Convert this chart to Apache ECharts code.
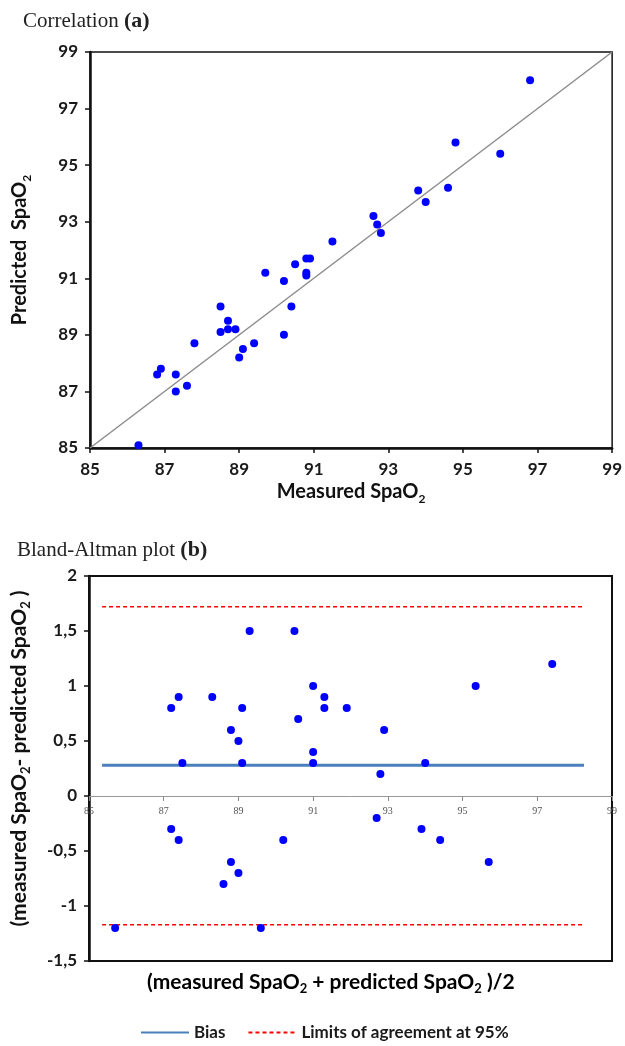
<!DOCTYPE html>
<html><head><meta charset="utf-8">
<script src="https://cdn.jsdelivr.net/npm/echarts@6/dist/echarts.min.js"></script>
<style>html,body{margin:0;padding:0;background:#fff}#c{width:625px;height:1046px}</style>
</head><body><div id="c"></div>
<script>
// Panel (a): measured vs predicted SpaO2
const measured = [86.3,86.8,86.9,87.3,87.3,87.6,87.8,88.5,88.5,88.7,88.7,88.9,89.0,89.1,89.4,89.7,90.2,90.2,90.4,90.5,90.8,90.9,90.8,90.8,91.5,92.8,92.6,92.7,93.8,94.0,94.6,94.8,96.0,96.8];
const predicted = [85.1,87.6,87.8,87.6,87.0,87.2,88.7,90.0,89.1,89.5,89.2,89.2,88.2,88.5,88.7,91.2,90.9,89.0,90.0,91.5,91.7,91.7,91.2,91.1,92.3,92.6,93.2,92.9,94.1,93.7,94.2,95.8,95.4,98.0];
const identityLine = [85, 99];
const corrTicks = [85,87,89,91,93,95,97,99];

// Panel (b): Bland-Altman
const baMean = [87.2,87.4,88.3,89.3,90.5,91.0,89.1,88.8,89.0,90.6,91.0,87.5,89.1,91.0,91.3,91.3,91.9,92.9,95.35,97.4,94.0,92.8,87.2,87.4,88.8,89.0,88.6,90.2,85.7,89.6,92.7,93.9,94.4,95.7];
const baDiff = [0.8,0.9,0.9,1.5,1.5,1.0,0.8,0.6,0.5,0.7,0.4,0.3,0.3,0.3,0.9,0.8,0.8,0.6,1.0,1.2,0.3,0.2,-0.3,-0.4,-0.6,-0.7,-0.8,-0.4,-1.2,-1.2,-0.2,-0.3,-0.4,-0.6];
const bias = 0.28;
const upperLimit = 1.72;
const lowerLimit = -1.17;
const refLineX = [85.35, 98.25];
const baXTicks = [85,87,89,91,93,95,97,99];

const SANS = 'Lato, "Open Sans", sans-serif';
const SERIF = '"Liberation Serif", "DejaVu Serif", serif';

function subRich(size) {
  return {
    m: {fontFamily: SANS, fontWeight: 'bold', fontSize: size, color: '#111', lineHeight: 26},
    s: {fontFamily: SANS, fontWeight: 'bold', fontSize: Math.round(size * 0.62), color: '#111', lineHeight: 15, verticalAlign: 'bottom'}
  };
}
const titleRich = {
  n: {fontFamily: SERIF, fontSize: 21, fontWeight: 'normal', color: '#222'},
  b: {fontFamily: SERIF, fontSize: 22, fontWeight: 'bold', color: '#222'}
};
const tickLabel = {fontFamily: SANS, fontWeight: 'bold', fontSize: 17, color: '#1a1a1a'};

const chart = echarts.init(document.getElementById('c'), null, {renderer: 'canvas'});
chart.setOption({
  backgroundColor: '#fff',
  animation: false,
  title: [
    {text: '{n|Correlation }{b|(a)}', left: 18, top: 5, textStyle: {fontWeight: 'normal', rich: titleRich}},
    {text: '{n|Bland-Altman plot }{b|(b)}', left: 12, top: 534, textStyle: {fontWeight: 'normal', rich: titleRich}}
  ],
  grid: [
    {left: 90, top: 52, width: 525, height: 396, show: true, borderColor: '#111', borderWidth: 1.5, backgroundColor: 'transparent'},
    {left: 89, top: 576, width: 523, height: 385, show: true, borderColor: '#111', borderWidth: 2, backgroundColor: 'transparent'}
  ],
  xAxis: [
    {gridIndex: 0, type: 'value', min: 85, max: 99, interval: 2,
     name: '{m|Measured SpaO}{s|2}', nameLocation: 'middle', nameGap: 31,
     nameTextStyle: {rich: subRich(20)},
     axisLine: {show: true, lineStyle: {color: '#111', width: 2.5}},
     axisTick: {show: true, length: 5, lineStyle: {color: '#111', width: 1.5}, customValues: corrTicks},
     axisLabel: Object.assign({margin: 13, customValues: corrTicks}, tickLabel),
     splitLine: {show: false}},
    {gridIndex: 1, type: 'value', min: 85, max: 99, interval: 2, offset: -165,
     axisLine: {show: true, onZero: false, lineStyle: {color: '#999', width: 1}},
     axisTick: {show: true, length: 5, lineStyle: {color: '#888', width: 1}, customValues: baXTicks},
     axisLabel: {fontFamily: SERIF, fontSize: 10, color: '#555', margin: 10, customValues: baXTicks},
     splitLine: {show: false}}
  ],
  yAxis: [
    {gridIndex: 0, type: 'value', min: 85, max: 99, interval: 2,
     name: '{m|Predicted  SpaO}{s|2}', nameLocation: 'middle', nameGap: 57, nameRotate: 90,
     nameTextStyle: {rich: subRich(20)},
     axisLine: {show: true, lineStyle: {color: '#111', width: 2.5}},
     axisTick: {show: true, length: 5, lineStyle: {color: '#111', width: 1.5}, customValues: corrTicks},
     axisLabel: Object.assign({margin: 12, customValues: corrTicks}, tickLabel),
     splitLine: {show: false}},
    {gridIndex: 1, type: 'value', min: -1.5, max: 2, interval: 0.5,
     name: '{m|(measured SpaO}{s|2}{m|- predicted SpaO}{s|2}{m| )}', nameLocation: 'middle', nameGap: 57, nameRotate: 90,
     nameTextStyle: {rich: subRich(21), padding: [0, 0, 0, 20]},
     axisLine: {show: true, lineStyle: {color: '#111', width: 2.5}},
     axisTick: {show: true, length: 5, lineStyle: {color: '#111', width: 1.5}},
     axisLabel: Object.assign({margin: 12, formatter: v => String(v).replace('.', ',')}, tickLabel),
     splitLine: {show: false}}
  ],
  legend: {
    top: 1019, left: 135, itemWidth: 48, itemHeight: 12, itemGap: 22,
    itemStyle: {opacity: 0},
    lineStyle: {width: 2},
    data: ['Bias', 'Limits of agreement at 95%'],
    textStyle: {fontFamily: SANS, fontWeight: 'bold', fontSize: 17, color: '#1a1a1a'}
  },
  graphic: [
    {type: 'text', left: 147, top: 972,
     style: {text: '{m|(measured SpaO}{s|2}{m| + predicted SpaO}{s|2}{m| )/2}', rich: subRich(21)}}
  ],
  series: [
    {type: 'line', xAxisIndex: 0, yAxisIndex: 0, data: identityLine.map(v => [v, v]),
     symbol: 'none', lineStyle: {color: '#8c8c8c', width: 1.5}, silent: true, z: 1},
    {type: 'scatter', xAxisIndex: 0, yAxisIndex: 0, data: measured.map((m, i) => [m, predicted[i]]),
     symbolSize: 8, itemStyle: {color: '#0000ff', opacity: 1}, z: 3},
    {name: 'Bias', type: 'line', xAxisIndex: 1, yAxisIndex: 1, data: refLineX.map(x => [x, bias]),
     symbol: 'none', lineStyle: {color: '#4a7fbd', width: 3}, itemStyle: {color: '#4a7fbd'}, z: 2},
    {name: 'Limits of agreement at 95%', type: 'line', xAxisIndex: 1, yAxisIndex: 1, data: refLineX.map(x => [x, upperLimit]),
     symbol: 'none', lineStyle: {color: '#ff0000', width: 1.5, type: [4, 3]}, itemStyle: {color: '#ff0000'}, z: 2},
    {name: 'Limits of agreement at 95%', type: 'line', xAxisIndex: 1, yAxisIndex: 1, data: refLineX.map(x => [x, lowerLimit]),
     symbol: 'none', lineStyle: {color: '#ff0000', width: 1.5, type: [4, 3]}, itemStyle: {color: '#ff0000'}, z: 2},
    {type: 'scatter', xAxisIndex: 1, yAxisIndex: 1, data: baMean.map((m, i) => [m, baDiff[i]]),
     symbolSize: 8, itemStyle: {color: '#0000ff', opacity: 1}, z: 3}
  ]
});
</script></body></html>
